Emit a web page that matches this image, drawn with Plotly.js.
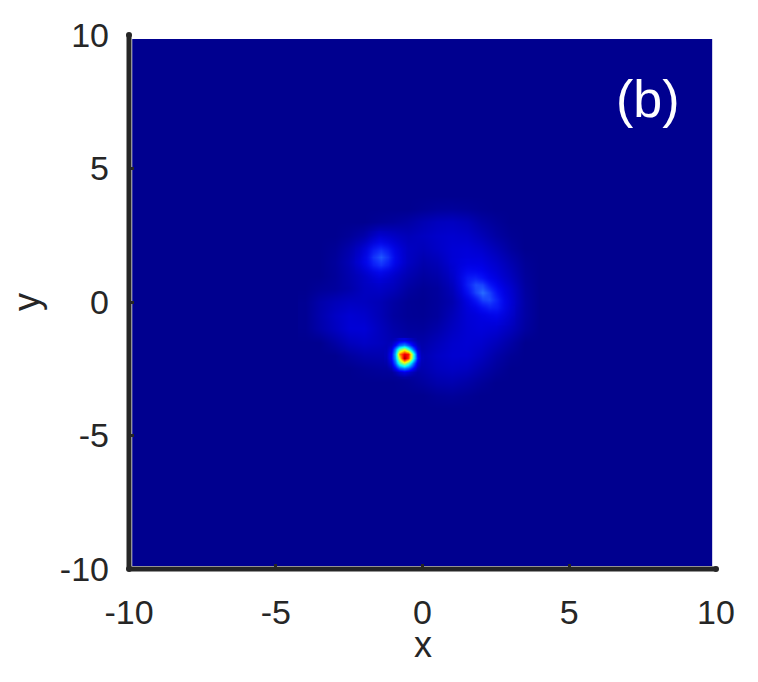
<!DOCTYPE html>
<html>
<head>
<meta charset="utf-8">
<script src="https://cdn.plot.ly/plotly-3.0.1.min.js"></script>
<style>html,body{margin:0;padding:0;background:#fff}</style>
</head>
<body>
<div id="chart" style="width:758px;height:682px"></div>
<script>
const tickValues = [-10, -5, 0, 5, 10];
const tickLabels = ['-10', '-5', '0', '5', '10'];
const imageXRange = [-9.89, 9.87];
const imageYRange = [-9.89, 9.85];
const spineX = [-10, -10, 10];
const spineY = [10, -10, -10];

// broad ring of lobes, read on a 0.5 grid
const ringX = [-4,-3.5,-3,-2.5,-2,-1.5,-1,-0.5,0,0.5,1,1.5,2,2.5,3,3.5,4];
const ringY = [-4,-3.5,-3,-2.5,-2,-1.5,-1,-0.5,0,0.5,1,1.5,2,2.5,3,3.5,4];
const ringZ = [
 [0,0,0,0,0,0,0,0,0,0,0,0,0,0,0,0,0],
 [0,0,0,0,0,0,0,0,0,.008,.012,.006,0,0,0,0,0],
 [0,0,0,0,0,0,0,.006,.018,.032,.036,.026,.012,0,0,0,0],
 [0,0,0,0,.008,.014,.018,.024,.036,.052,.06,.054,.034,.014,0,0,0],
 [0,0,0,.018,.032,.036,.034,.034,.042,.06,.072,.072,.055,.028,.008,0,0],
 [0,0,.024,.05,.062,.054,.04,.032,.03,.048,.068,.076,.07,.05,.024,0,0],
 [.004,.03,.054,.078,.08,.054,.03,.016,.014,.03,.056,.076,.084,.076,.05,.018,0],
 [.004,.034,.06,.076,.068,.046,.02,.008,.006,.016,.046,.078,.09,.095,.062,.024,0],
 [.004,.03,.046,.056,.054,.044,.024,.008,.004,.014,.035,.085,.115,.115,.075,.024,0],
 [0,.01,.016,.03,.054,.062,.048,.02,.008,.016,.045,.105,.125,.11,.07,.02,0],
 [0,0,.012,.034,.06,.085,.065,.038,.02,.03,.06,.105,.11,.085,.05,.014,0],
 [0,0,.014,.042,.09,.125,.1,.058,.034,.046,.076,.09,.09,.065,.034,.008,0],
 [0,0,.008,.032,.07,.11,.09,.058,.048,.062,.078,.082,.07,.044,.016,0,0],
 [0,0,0,.01,.03,.07,.06,.046,.056,.066,.072,.066,.046,.022,.006,0,0],
 [0,0,0,0,0,.008,.014,.024,.04,.052,.056,.046,.024,.01,0,0,0],
 [0,0,0,0,0,0,0,0,.006,.012,.014,.01,.004,0,0,0,0],
 [0,0,0,0,0,0,0,0,0,0,0,0,0,0,0,0,0]
];

// brightest part of the right lobe, read on a finer grid
const rightLobeX = [1.04,1.29,1.54,1.79,2.04,2.29,2.54,2.79,3.04];
const rightLobeY = [-0.75,-0.47,-0.19,0.09,0.37,0.65,0.93,1.21,1.49];
const rightLobeZ = [
 [0,0,0,0,.02,.05,.078,.073,.043],
 [0,0,0,.034,.11,.208,.24,.17,.073],
 [0,0,.043,.16,.375,.527,.456,.24,.078],
 [0,.034,.16,.456,.78,.82,.527,.208,.05],
 [.02,.11,.375,.78,1,.78,.375,.11,.02],
 [.05,.208,.527,.82,.78,.456,.16,.034,0],
 [.078,.24,.456,.527,.375,.16,.043,0,0],
 [.073,.17,.24,.208,.11,.034,0,0,0],
 [.043,.073,.078,.05,.02,0,0,0,0]
];

// brightest part of the upper left lobe, read on a finer grid
const leftLobeX = [-2.18,-1.93,-1.68,-1.43,-1.18,-0.93,-0.68];
const leftLobeY = [0.84,1.12,1.4,1.68,1.96,2.24,2.52];
const leftLobeZ = [
 [0,.017,.048,.065,.048,.017,0],
 [.017,.086,.205,.275,.205,.086,.017],
 [.048,.205,.495,.665,.495,.205,.048],
 [.065,.275,.665,.89,.665,.275,.065],
 [.048,.205,.495,.665,.495,.205,.048],
 [.017,.086,.205,.275,.205,.086,.017],
 [0,.017,.048,.065,.048,.017,0]
];

// sharp peak, read on a fine grid
const peakX = [-1.23,-1.08,-0.93,-0.78,-0.63,-0.48,-0.33,-0.18,-0.03];
const peakY = [-2.79,-2.62,-2.45,-2.28,-2.11,-1.94,-1.77,-1.6,-1.43];
const peakZ = [
 [0,0,0,.005,.01,.005,0,0,0],
 [0,0,.02,.05,.07,.05,.02,0,0],
 [0,.02,.1,.2,.25,.2,.1,.02,0],
 [.005,.06,.21,.44,.58,.45,.22,.06,.005],
 [.01,.1,.28,.62,.97,.82,.4,.12,.01],
 [.01,.1,.3,.74,.9,.85,.42,.1,.005],
 [.005,.06,.24,.46,.58,.42,.2,.05,0],
 [0,.02,.1,.2,.25,.18,.08,.02,0],
 [0,0,.015,.05,.06,.04,.015,0,0]
];

const ink = '#262626';
const fontFamily = '"Liberation Sans", Arial, sans-serif';
const jet = [
 [0,'rgb(0,0,143)'],[0.125,'rgb(0,0,255)'],[0.375,'rgb(0,255,255)'],
 [0.625,'rgb(255,255,0)'],[0.875,'rgb(255,0,0)'],[1,'rgb(128,0,0)']
];
const lobeScale = [[0,'rgba(0,0,255,0)'],[1,'rgb(40,110,255)']];
const peakScale = [
 [0,'rgba(0,0,255,0)'],[0.1,'rgb(0,0,255)'],[0.375,'rgb(0,255,255)'],
 [0.625,'rgb(255,255,0)'],[0.875,'rgb(255,0,0)'],[1,'rgb(128,0,0)']
];

function heat(x, y, z, colorscale){
 return {type:'heatmap',x:x,y:y,z:z,zmin:0,zmax:1,zsmooth:'best',colorscale:colorscale,showscale:false,hoverinfo:'skip'};
}

const traces = [
 heat(ringX,ringY,ringZ,jet),
 heat(rightLobeX,rightLobeY,rightLobeZ,lobeScale),
 heat(leftLobeX,leftLobeY,leftLobeZ,lobeScale),
 heat(peakX,peakY,peakZ,peakScale),
 {type:'scatter',mode:'markers',x:spineX,y:spineY,cliponaxis:false,showlegend:false,hoverinfo:'skip',
  marker:{color:ink,size:6}}
];

function axis(title, standoff, labelStandoff){
 const a = {
  range:[-10,10],tickmode:'array',tickvals:tickValues,ticktext:tickLabels,
  ticks:'inside',ticklen:5,tickwidth:3,tickcolor:ink,
  showgrid:false,zeroline:false,showline:false,
  tickfont:{family:fontFamily,size:34,color:ink},
  ticklabelstandoff:labelStandoff
 };
 if(title) a.title = {text:title,standoff:standoff,font:{family:fontFamily,size:36,color:ink}};
 return a;
}

const layout = {
 width:758,height:682,
 margin:{l:129,r:42,t:35,b:113,pad:0},
 paper_bgcolor:'#fff',plot_bgcolor:'#fff',
 showlegend:false,
 xaxis:axis('',0,20),
 yaxis:axis('y',9,19),
 shapes:[
  {type:'rect',layer:'below',xref:'x',yref:'y',x0:imageXRange[0],x1:imageXRange[1],y0:imageYRange[0],y1:imageYRange[1],
   fillcolor:'rgb(0,0,143)',line:{width:0}},
  {type:'line',layer:'above',xref:'paper',yref:'paper',x0:0,x1:0,y0:0,y1:1,line:{color:ink,width:5}},
  {type:'line',layer:'above',xref:'paper',yref:'paper',x0:0,x1:1,y0:0,y1:0,line:{color:ink,width:5}}
 ],
 annotations:[
  {x:7.69,y:7.6,xref:'x',yref:'y',text:'(b)',showarrow:false,font:{family:fontFamily,size:52,color:'#fff'}},
  {x:0,y:-0.142,xref:'x',yref:'paper',yanchor:'middle',text:'x',showarrow:false,font:{family:fontFamily,size:36,color:ink}}
 ]
};
Plotly.newPlot('chart',traces,layout,{displayModeBar:false,staticPlot:true});
</script>
</body>
</html>
